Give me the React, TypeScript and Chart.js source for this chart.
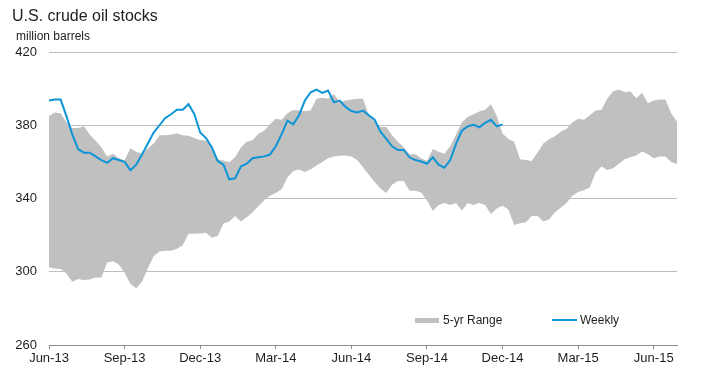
import React, { useEffect, useRef } from "react";
import { Chart, registerables } from "chart.js";

Chart.register(...registerables);

const titleText = "U.S. crude oil stocks";
const unitText = "million barrels";
const legendRange = "5-yr Range";
const legendWeekly = "Weekly";

const tickLabels = ["Jun-13", "Sep-13", "Dec-13", "Mar-14", "Jun-14", "Sep-14", "Dec-14", "Mar-15", "Jun-15"];
const tickWeeks = [0, 13, 26, 39, 52, 65, 78, 91, 104];
const lastWeek = 108;

const weekly = [
  393.5, 394, 394, 385, 375, 367, 365, 365, 363, 361,
  359.5, 362, 361, 360, 355.5, 358.5, 364, 370, 376, 380,
  384, 386, 388.5, 388.5, 391.5, 386, 376, 373, 368, 360.5,
  358.5, 350.5, 351, 357.5, 359, 362, 362.5, 363, 364, 368.5,
  375, 382.5, 380.5, 385.5, 393.5, 398, 399.5, 397.7, 399, 392.5,
  393.5, 390, 387.8, 387, 388, 385.5, 383, 376.5, 372.5, 368.5,
  366.5, 366.5, 362.5, 361, 360.2, 359, 362.5, 358.5, 356.8, 361,
  369.8, 377, 379.4, 380.3, 378.9, 381.3, 383, 379.4, 380.5,
];

const rangeHigh = [
  385, 387, 386.5, 381.5, 378.5, 378.5, 379.5, 375, 371.5, 368,
  363, 364.5, 362, 360.8, 367.5, 365.5, 364.5, 367.5, 370, 374.5,
  374.5, 375, 375.5, 374.5, 374.3, 373, 372, 371.7, 368.5, 361.5,
  360.7, 359.8, 362.5, 367.8, 371, 371.8, 375.4, 377, 380.5, 383.5,
  383, 386.6, 388.3, 388, 387.8, 388, 394.5, 395, 394.5, 397,
  392.5, 393.5, 394, 394.5, 394.5, 385.5, 382, 379, 379, 374.5,
  371, 368, 364.2, 364.2, 362, 360.5, 367, 365.5, 364.5, 368.5,
  375, 381.5, 384.5, 386, 387.5, 388.5, 391.4, 385, 375.5, 372.5,
  371, 361.5, 361, 360.5, 365, 370, 372.3, 374, 376.5, 378,
  381.5, 383.5, 383, 385.5, 388, 388.3, 394.5, 398.5, 399.4, 398.2,
  398.4, 394.8, 397.7, 392, 393.5, 394.1, 394, 386.5, 382,
];

const rangeLow = [
  302.5, 301.8, 301.5, 299, 294.5, 296, 295.5, 295.8, 296.8, 296.8,
  305, 305.8, 304, 299.5, 293.5, 291, 294.5, 302, 308.5, 311,
  311.5, 311.5, 312.5, 314.5, 320.8, 320.8, 320.9, 321.3, 318.6, 319.5,
  326.3, 327.5, 330.5, 327.4, 329.8, 332.5, 335.8, 339, 341.5, 343,
  345, 351.5, 355, 355.8, 354.5, 356, 358, 360, 362, 363,
  363.3, 363.5, 363, 361, 357, 353, 349, 345.5, 343, 347.5,
  349.5, 349.5, 344.2, 344.2, 343.3, 339, 333.3, 336.5, 337.6, 336.5,
  337.5, 333.5, 337.6, 336.5, 337.5, 336.5, 331.6, 334.5, 336, 334,
  325.5, 326.5, 327, 330.5, 330.5, 327.5, 328.5, 332.5, 335, 337.5,
  341.5, 343.5, 344.5, 346, 354, 357.5, 355.5, 356.5, 359, 361.5,
  362.5, 363.5, 365.6, 364.2, 362, 363, 363, 360, 358.8,
];

const BLUE = "#0d95d6";
const BAND = "#c0c0c0";
const TEXT = "#1e1e1e";
const FONT = '"Liberation Sans", Arial, Helvetica, sans-serif';

export default function App() {
  const ref = useRef<HTMLCanvasElement>(null);

  useEffect(() => {
    document.body.style.margin = "0";
    const canvas = ref.current;
    if (!canvas) return;

    const textPlugin = {
      id: "textsAndLegend",
      afterDraw(chart: any) {
        const c = chart.ctx as CanvasRenderingContext2D;
        c.save();
        c.textAlign = "left";
        c.textBaseline = "alphabetic";
        c.fillStyle = TEXT;
        c.font = `16px ${FONT}`;
        c.fillText(titleText, 12, 21);
        c.font = `12px ${FONT}`;
        c.fillText(unitText, 16, 40);

        // legend
        c.fillStyle = BAND;
        c.fillRect(415, 318, 24, 5);
        c.fillStyle = TEXT;
        c.fillText(legendRange, 443, 324);
        c.strokeStyle = BLUE;
        c.lineWidth = 2;
        c.beginPath();
        c.moveTo(552, 320);
        c.lineTo(577, 320);
        c.stroke();
        c.fillText(legendWeekly, 580, 324);
        c.restore();
      },
    };

    const chart = new Chart(canvas, {
      type: "line",
      data: {
        datasets: [
          {
            label: "Weekly",
            data: weekly.map((v, i) => ({ x: i, y: v })),
            borderColor: BLUE,
            borderWidth: 2,
            pointRadius: 0,
            fill: false,
            tension: 0,
            order: 0,
          },
          {
            label: "5-yr High",
            data: rangeHigh.map((v, i) => ({ x: i, y: v })),
            borderColor: "rgba(0,0,0,0)",
            borderWidth: 0,
            backgroundColor: BAND,
            pointRadius: 0,
            fill: "+1",
            tension: 0,
            order: 1,
          },
          {
            label: "5-yr Low",
            data: rangeLow.map((v, i) => ({ x: i, y: v })),
            borderColor: "rgba(0,0,0,0)",
            borderWidth: 0,
            pointRadius: 0,
            fill: false,
            tension: 0,
            order: 2,
          },
        ],
      },
      options: {
        animation: false,
        responsive: false,
        layout: { padding: { top: 52, right: 41, bottom: 0, left: 0 } },
        plugins: {
          legend: { display: false },
          tooltip: { enabled: false },
          title: { display: false },
        },
        scales: {
          x: {
            type: "linear",
            min: 0,
            max: lastWeek,
            afterBuildTicks: (s: any) => {
              s.ticks = tickWeeks.map((v) => ({ value: v }));
            },
            afterFit: (s: any) => {
              s.height = 39;
            },
            ticks: {
              autoSkip: false,
              maxRotation: 0,
              padding: 2,
              color: TEXT,
              font: { family: FONT, size: 13 },
              callback: (v: any) => {
                const k = tickWeeks.indexOf(Number(v));
                return k >= 0 ? tickLabels[k] : "";
              },
            },
            grid: {
              display: true,
              drawOnChartArea: false,
              tickLength: 4,
              color: "#8c8c8c",
            },
            border: { display: true, color: "#8c8c8c", width: 1 },
          },
          y: {
            min: 260,
            max: 420,
            afterFit: (s: any) => {
              s.width = 49;
            },
            ticks: {
              stepSize: 40,
              padding: 12,
              color: TEXT,
              font: { family: FONT, size: 13 },
            },
            grid: { color: "#bdbdbd", drawTicks: false },
            border: { display: false },
          },
        },
      },
      plugins: [textPlugin],
    });

    return () => chart.destroy();
  }, []);

  return (
    <div style={{ position: "absolute", left: 0, top: 0, width: 718, height: 384 }}>
      <canvas ref={ref} width={718} height={384} style={{ display: "block" }} />
    </div>
  );
}
